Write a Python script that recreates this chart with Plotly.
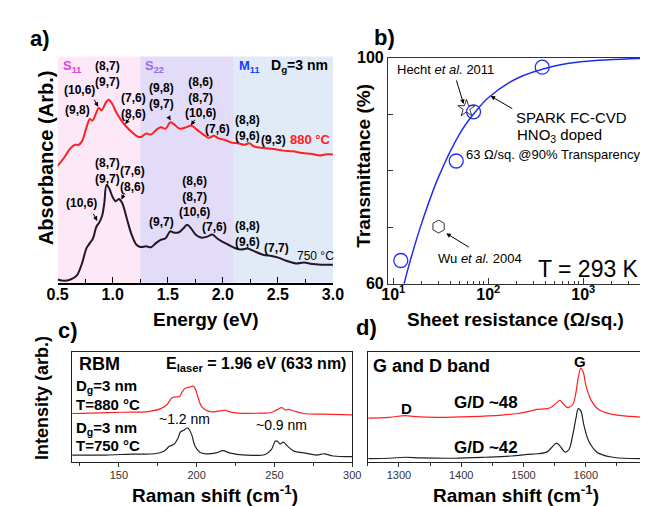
import plotly.graph_objects as go

FONT = "Liberation Sans, Arial, sans-serif"
W, H = 648, 506

# ---- panel a: absorbance spectra ----
energy_880 = [0.500, 0.558, 0.617, 0.661, 0.690, 0.719, 0.763, 0.792, 0.816, 0.851, 0.874, 0.895, 0.915,
              0.939, 0.962, 0.991, 1.026, 1.070, 1.114, 1.173, 1.231, 1.260, 1.304, 1.348, 1.392, 1.436,
              1.480, 1.523, 1.553, 1.611, 1.670, 1.713, 1.772, 1.830, 1.874, 1.918, 1.962, 2.020, 2.079,
              2.137, 2.196, 2.240, 2.284, 2.371, 2.459, 2.547, 2.635, 2.722, 2.810, 2.883, 2.927, 3.000]
absorb_880 = [121.0, 129.3, 139.3, 142.7, 142.7, 146.0, 161.0, 169.3, 167.7, 176.0, 181.0, 178.3, 181.0,
              186.7, 189.3, 186.0, 177.7, 169.3, 162.7, 156.0, 151.0, 151.0, 154.3, 153.3, 157.7, 161.0,
              159.3, 166.0, 164.3, 159.3, 161.0, 162.7, 157.7, 152.7, 150.0, 152.0, 149.3, 147.7, 145.0,
              144.3, 142.7, 144.3, 141.0, 139.3, 138.3, 136.7, 136.0, 134.3, 133.3, 131.7, 132.7, 132.7]
energy_750 = [0.500, 0.558, 0.617, 0.675, 0.719, 0.763, 0.792, 0.822, 0.851, 0.880, 0.904, 0.924, 0.944,
              0.968, 0.997, 1.026, 1.056, 1.085, 1.129, 1.173, 1.216, 1.254, 1.304, 1.348, 1.392, 1.436,
              1.480, 1.523, 1.553, 1.596, 1.640, 1.675, 1.713, 1.757, 1.801, 1.860, 1.904, 1.947, 1.991,
              2.050, 2.108, 2.167, 2.225, 2.284, 2.371, 2.444, 2.503, 2.576, 2.664, 2.737, 2.810, 2.898, 3.000]
absorb_750 = [3.3, 2.0, 3.3, 7.7, 19.3, 36.0, 41.0, 46.0, 57.7, 62.7, 69.3, 82.7, 101.0,
              97.7, 89.3, 84.3, 86.7, 82.7, 66.0, 49.3, 39.3, 37.0, 37.7, 36.7, 41.0, 44.3,
              46.0, 53.3, 52.0, 52.0, 56.0, 60.0, 56.0, 49.3, 46.7, 47.7, 50.0, 46.0, 42.7,
              39.3, 36.0, 34.3, 35.3, 32.7, 28.7, 27.7, 26.0, 22.7, 20.0, 21.0, 19.3, 18.7, 18.7]
region_edges = [0.5, 1.25, 2.10, 3.0]
region_colors = ["#fde8f8", "#e3dcf8", "#e0ebf7"]
region_names = ["S<sub>11</sub>", "S<sub>22</sub>", "M<sub>11</sub>"]
region_name_colors = ["#e040d8", "#9a66f0", "#1a3cff"]
region_name_x = [0.63, 1.377, 2.237]

# chirality labels (x, y, text)
labels_880 = [(0.956, 216, "(8,7)<br>(9,7)"), (0.702, 199, "(10,6)"), (0.684, 179, "(9,8)"),
              (1.193, 183, "(7,6)<br>(8,6)"), (1.447, 193, "(9,8)<br>(9,7)"),
              (1.798, 192, "(8,6)<br>(8,7)<br>(10,6)"), (1.947, 159, "(7,6)"),
              (2.228, 160, "(8,8)<br>(9,6)"), (2.456, 148, "(9,3)")]
labels_750 = [(0.956, 116, "(8,7)<br>(9,7)"), (1.184, 107, "(7,6)<br>(8,6)"), (0.719, 83, "(10,6)"),
              (1.746, 89, "(8,6)<br>(8,7)<br>(10,6)"), (1.443, 63, "(9,7)"), (1.921, 58, "(7,6)"),
              (2.228, 50, "(8,8)<br>(9,6)"), (2.491, 36, "(7,7)")]
# (head_x, head_y, tail_x, tail_y)
arrows_a = [(0.868, 182, 0.825, 191), (1.114, 164, 1.167, 173), (1.526, 168, 1.500, 173),
            (1.711, 163, 1.754, 170), (0.860, 64, 0.816, 73), (1.079, 86, 1.114, 94)]

# ---- panel b: transmittance vs sheet resistance ----
spark_rs = [12, 46, 70, 370]
spark_t = [64.1, 81.7, 90.4, 98.3]
hecht_rs = [59]
hecht_t = [91.0]
wu_rs = [30]
wu_t = [70.1]
fit_rs = [13, 15, 20, 30, 50, 70, 100, 200, 500, 1000, 5000]
fit_t = [60.0, 63.9, 70.8, 78.9, 86.5, 90.0, 92.9, 96.3, 98.5, 99.3, 99.9]

# ---- panel c: RBM ----
rbm_x_880 = [120, 131.5, 152, 168.75, 177, 181, 184, 186, 189, 190.6, 192.7, 195.8, 197.5, 199, 201, 203,
             206, 210, 214.6, 218.75, 220.8, 227, 239.6, 248, 252, 254.8, 257, 259, 262.5, 268.75, 281, 300]
rbm_y_880 = [50.7, 51, 52, 52.7, 55.7, 60, 66.7, 67.7, 68.3, 72.7, 76.7, 78.3, 79, 76.7, 66.7, 58.3,
             54, 52.3, 53.3, 54, 52.7, 51, 51, 51.7, 55, 56.7, 54.3, 55, 53.3, 50.7, 50, 49.3]
rbm_x_750 = [120, 141.7, 158, 173, 179, 182.5, 185.6, 188, 189.6, 191.7, 193.75, 194.8, 196.9, 199, 202,
             206, 212.5, 216.9, 221, 231.5, 244, 248, 250.6, 252, 253.75, 255.6, 258.5, 262.5, 268.75,
             277, 282, 287.7, 300]
rbm_y_750 = [7.7, 7.7, 8.7, 9, 11.7, 16.7, 19, 25, 31.7, 33.3, 35.7, 35, 28.3, 16.7, 10.7,
             9, 10, 12.3, 10, 7.7, 8.3, 13.3, 22.3, 21.7, 19, 21, 16.7, 11.7, 10,
             7.7, 9, 6.7, 6]

# ---- panel d: G and D band ----
gd_x_880 = [1251, 1284.5, 1310, 1326, 1362.5, 1414, 1465, 1491, 1512, 1522, 1538, 1545.5, 1553, 1558,
            1564, 1571, 1579, 1584, 1588, 1592, 1596, 1600, 1608, 1620, 1641, 1672, 1695]
gd_y_880 = [46.0, 46.7, 48.4, 47.4, 46.7, 47.4, 49.0, 50.7, 53.4, 55.0, 55.7, 57.7, 61.7, 64.4,
            60.7, 56.7, 60.0, 71.7, 88.4, 97.7, 93.4, 80.0, 65.0, 55.0, 50.0, 47.7, 46.7]
gd_x_750 = [1251, 1284.5, 1310, 1336, 1388, 1439, 1481, 1507, 1522, 1538, 1545.5, 1553, 1559, 1567,
            1573, 1579, 1584, 1588, 1592, 1597, 1605, 1618, 1641, 1695]
gd_y_750 = [4.0, 4.4, 5.4, 4.7, 4.4, 5.4, 6.7, 8.4, 9.0, 11.0, 15.7, 20.0, 16.7, 10.7,
            13.4, 28.4, 45.0, 55.7, 53.4, 38.4, 21.7, 10.7, 5.7, 4.0]

RED = "#ff2020"
DARK = "#24162a"
BLUE = "#1f2ff0"


def px_x(p):
    return p / W


def px_y(p):
    return 1 - p / H


fig = go.Figure()

# panel a curves
fig.add_trace(go.Scatter(x=energy_880, y=absorb_880, mode="lines", line=dict(color=RED, width=2, shape="spline"),
                         xaxis="x", yaxis="y"))
fig.add_trace(go.Scatter(x=energy_750, y=absorb_750, mode="lines", line=dict(color=DARK, width=2, shape="spline"),
                         xaxis="x", yaxis="y"))

# panel b
fig.add_trace(go.Scatter(x=fit_rs, y=fit_t, mode="lines", line=dict(color=BLUE, width=1.5, shape="spline"),
                         xaxis="x2", yaxis="y2"))
fig.add_trace(go.Scatter(x=spark_rs, y=spark_t, mode="markers", xaxis="x2", yaxis="y2",
                         marker=dict(symbol="circle-open", size=14, color=BLUE, line=dict(width=1.3))))
fig.add_trace(go.Scatter(x=hecht_rs, y=hecht_t, mode="markers", xaxis="x2", yaxis="y2",
                         marker=dict(symbol="star-open", size=13, color="#333", line=dict(width=1))))
fig.add_trace(go.Scatter(x=wu_rs, y=wu_t, mode="markers", xaxis="x2", yaxis="y2",
                         marker=dict(symbol="hexagon-open", size=13, color="#333", line=dict(width=1))))

# panel c
fig.add_trace(go.Scatter(x=rbm_x_880, y=rbm_y_880, mode="lines", line=dict(color=RED, width=1.2, shape="spline"),
                         xaxis="x3", yaxis="y3"))
fig.add_trace(go.Scatter(x=rbm_x_750, y=rbm_y_750, mode="lines", line=dict(color="#222", width=1.2, shape="spline"),
                         xaxis="x3", yaxis="y3"))

# panel d
fig.add_trace(go.Scatter(x=gd_x_880, y=gd_y_880, mode="lines", line=dict(color=RED, width=1.2, shape="spline"),
                         xaxis="x4", yaxis="y4"))
fig.add_trace(go.Scatter(x=gd_x_750, y=gd_y_750, mode="lines", line=dict(color="#222", width=1.2, shape="spline"),
                         xaxis="x4", yaxis="y4"))

shapes = []
for i, col in enumerate(region_colors):
    shapes.append(dict(type="rect", xref="x", yref="y domain", x0=region_edges[i], x1=region_edges[i + 1],
                       y0=0, y1=1, fillcolor=col, line=dict(width=0), layer="below"))

ann = []


def txt(x, y, text, size=12, bold=True, color="black", xref="x", yref="y", xanchor="center", angle=0):
    ann.append(dict(x=x, y=y, text=text, xref=xref, yref=yref, showarrow=False, xanchor=xanchor, yanchor="middle",
                    textangle=angle,
                    font=dict(family=FONT, size=size, color=color, weight="bold" if bold else "normal")))


def arrow(hx, hy, tx, ty, xref="x", yref="y", color="black"):
    ann.append(dict(x=hx, y=hy, ax=tx, ay=ty, xref=xref, yref=yref, axref=xref, ayref=yref, text="",
                    showarrow=True, arrowhead=2, arrowsize=0.9, arrowwidth=1, arrowcolor=color))


# panel a texts
for name, c, xx in zip(region_names, region_name_colors, region_name_x):
    txt(xx, 224, name, size=13, color=c)
txt(2.70, 224, "D<sub>g</sub>=3 nm", size=14)
for xx, yy, t in labels_880 + labels_750:
    txt(xx, yy, t, size=12)
txt(2.80, 148, "880 °C", size=13, color=RED)
txt(2.842, 28, "750 °C", size=12, bold=False)
for a in arrows_a:
    arrow(*a)

# panel b texts
txt(1.548, 97.9, "Hecht <i>et al.</i> 2011", size=13, bold=False, xref="x2", yref="y2")
arrow(1.741, 91.8, 1.66, 96.2, xref="x2", yref="y2")
txt(2.269, 89.4, "SPARK FC-CVD", size=15, bold=False, xref="x2", yref="y2", xanchor="left")
txt(2.279, 86.2, "HNO<sub>3</sub> doped", size=15, bold=False, xref="x2", yref="y2", xanchor="left")
txt(1.741, 82.9, "63 Ω/sq. @90% Transparency", size=13, bold=False, xref="x2", yref="y2", xanchor="left")
arrow(2.025, 93.2, 2.269, 90.8, xref="x2", yref="y2")
txt(1.914, 64.4, "Wu <i>et al.</i> 2004", size=13, bold=False, xref="x2", yref="y2")
arrow(1.558, 68.9, 1.812, 66.3, xref="x2", yref="y2")
txt(3.06, 62.6, "T = 293 K", size=23, bold=False, xref="x2", yref="y2")

# panel c texts
txt(123.1, 101.7, "RBM", size=18, xref="x3", yref="y3", xanchor="left")
txt(297, 101.7, "E<sub>laser</sub> = 1.96 eV (633 nm)", size=16, xref="x3", yref="y3", xanchor="right")
txt(121.3, 78.7, "D<sub>g</sub>=3 nm", size=15, xref="x3", yref="y3", xanchor="left")
txt(121.3, 59.7, "T=880 °C", size=15, xref="x3", yref="y3", xanchor="left")
txt(192.5, 44.7, "~1.2 nm", size=14, bold=False, xref="x3", yref="y3")
txt(121.3, 34.7, "D<sub>g</sub>=3 nm", size=15, xref="x3", yref="y3", xanchor="left")
txt(121.3, 17.7, "T=750 °C", size=15, xref="x3", yref="y3", xanchor="left")
txt(254.4, 38.7, "~0.9 nm", size=14, bold=False, xref="x3", yref="y3")

# panel d texts
txt(1256, 99.7, "G and D band", size=18, xref="x4", yref="y4", xanchor="left")
txt(1591, 104.7, "G", size=15, xref="x4", yref="y4")
txt(1312, 55.7, "D", size=15, xref="x4", yref="y4")
txt(1440.6, 61.7, "G/D ~48", size=17, xref="x4", yref="y4")
txt(1440.6, 15.7, "G/D ~42", size=17, xref="x4", yref="y4")

# panel letters and axis titles
for t, x, y in [("a)", 22, 23), ("b)", 378, 22), ("c)", 51, 325), ("d)", 360, 322)]:
    txt(px_x(x), px_y(y), t, size=22, xref="paper", yref="paper")
txt(px_x(194), px_y(314), "Energy (eV)", size=19, xref="paper", yref="paper")
txt(px_x(28), px_y(147), "Absorbance (Arb.)", size=20, xref="paper", yref="paper", angle=-90)
txt(px_x(357), px_y(155), "Transmittance (%)", size=19, xref="paper", yref="paper", angle=-90)
txt(px_x(514), px_y(314), "Sheet resistance (Ω/sq.)", size=19, xref="paper", yref="paper")
txt(px_x(24), px_y(395), "Intensity (arb.)", size=18, xref="paper", yref="paper", angle=-90)
txt(px_x(203), px_y(495), "Raman shift (cm<sup>-1</sup>)", size=19, xref="paper", yref="paper")
txt(px_x(514), px_y(495), "Raman shift (cm<sup>-1</sup>)", size=19, xref="paper", yref="paper")

bold_tick = dict(family=FONT, size=16, color="black", weight="bold")
small_tick = dict(family=FONT, size=11, color="#333")

fig.update_layout(
    width=W, height=H, margin=dict(l=0, r=0, t=0, b=0),
    paper_bgcolor="white", plot_bgcolor="rgba(0,0,0,0)",
    showlegend=False, shapes=shapes, annotations=ann,
    font=dict(family=FONT),
    xaxis=dict(domain=[px_x(40), px_x(325)], range=[0.5, 3.0], anchor="y",
               tickvals=[0.5, 1.0, 1.5, 2.0, 2.5, 3.0], ticktext=["0.5", "1.0", "1.5", "2.0", "2.5", "3.0"],
               ticks="inside", ticklen=6, tickcolor="black", showline=True, linecolor="black", linewidth=1.5,
               minor=dict(tickvals=[0.75, 1.25, 1.75, 2.25, 2.75], ticks="inside", ticklen=4, tickcolor="black"),
               tickfont=bold_tick, ticklabelstandoff=-4, showgrid=False, zeroline=False),
    yaxis=dict(domain=[px_y(276), px_y(42)], range=[0, 234], anchor="x", visible=False),
    xaxis2=dict(domain=[px_x(382), 1.0], type="log", range=[0.945, 3.65], anchor="y2",
                tickvals=[10, 100, 1000], ticktext=["10<sup>1</sup>", "10<sup>2</sup>", "10<sup>3</sup>"],
                ticks="inside", ticklen=6, tickcolor="#333", showline=True, linecolor="#333", linewidth=1.2,
                mirror=True, tickfont=bold_tick, ticklabelstandoff=-4, showgrid=False, zeroline=False,
                minor=dict(tickvals=[20, 30, 40, 50, 60, 70, 80, 90, 200, 300, 400, 500, 600, 700, 800, 900,
                                     2000, 3000, 4000], ticks="inside", ticklen=3, tickcolor="#333")),
    yaxis2=dict(domain=[px_y(277), px_y(43)], range=[60, 100], anchor="x2",
                tickvals=[60, 70, 80, 90, 100], ticktext=["60", "", "", "", "100"],
                ticks="inside", ticklen=5, tickcolor="#333", showline=True, linecolor="#333", linewidth=1.2,
                tickfont=bold_tick, showgrid=False, zeroline=False),
    xaxis3=dict(domain=[px_x(55), px_x(345)], range=[120, 300], anchor="y3",
                tickvals=[150, 200, 250, 300], ticks="outside", ticklen=4, tickcolor="#333",
                minor=dict(tickvals=[125, 175, 225, 275], ticks="outside", ticklen=3, tickcolor="#333"),
                showline=True, linecolor="#222", linewidth=1, mirror=True, ticklabelstandoff=-2,
                tickfont=small_tick, showgrid=False, zeroline=False),
    yaxis3=dict(domain=[px_y(462), px_y(348)], range=[0, 114], anchor="x3", showticklabels=False, ticks="",
                showline=True, linecolor="#222", linewidth=1, mirror=True, showgrid=False, zeroline=False),
    xaxis4=dict(domain=[px_x(361), 1.0], range=[1250, 1695], anchor="y4",
                tickvals=[1300, 1400, 1500, 1600], ticks="outside", ticklen=4, tickcolor="#333",
                minor=dict(tickvals=[1250, 1350, 1450, 1550, 1650], ticks="outside", ticklen=3, tickcolor="#333"),
                showline=True, linecolor="#222", linewidth=1, mirror=True, ticklabelstandoff=-2,
                tickfont=small_tick, showgrid=False, zeroline=False),
    yaxis4=dict(domain=[px_y(462), px_y(348)], range=[0, 114], anchor="x4", showticklabels=False, ticks="",
                showline=True, linecolor="#222", linewidth=1, mirror=True, showgrid=False, zeroline=False),
)

fig.write_html("out.html")
